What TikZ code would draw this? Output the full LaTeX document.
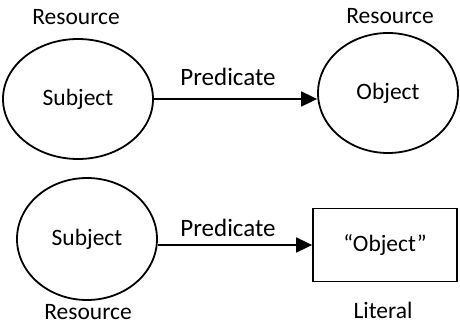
\documentclass[tikz,border=0pt]{standalone}
\usepackage{fontspec}
\setmainfont{Carlito}
\usetikzlibrary{shapes.geometric,arrows.meta}
\tikzset{
  res/.style={ellipse, draw, line width=1.8pt, inner sep=0pt},
  lit/.style={rectangle, draw, line width=1.8pt, inner sep=0pt},
  pred/.style={-{Triangle[length=16pt,width=15pt]}, line width=1.8pt},
  lbl/.style={font=\fontsize{23.5}{28}\selectfont},
  plbl/.style={font=\fontsize{25}{30}\selectfont}
}
\begin{document}
\begin{tikzpicture}[x=1pt, y=-1pt, every node/.style={lbl}]
  \useasboundingbox (0,0) rectangle (460,326);
  % top triple: resource to resource
  \node[res, minimum width=150pt, minimum height=120pt] (subj1) at (78,99) {Subject};
  \node[res, minimum width=140pt, minimum height=120pt] (obj1) at (388,93) {Object};
  \node (rs1) at (76,17) {Resource};
  \node (ro1) at (390,16) {Resource};
  \draw[pred] (subj1.east) -- (obj1.west |- subj1.east);
  \node[plbl] (p1) at (228,77) {Predicate};
  % bottom triple: resource to literal
  \node[res, minimum width=140pt, minimum height=122pt] (subj2) at (87,239) {Subject};
  \node[lit, minimum width=144pt, minimum height=73pt] (obj2) at (385,245) {“Object”};
  \node (rs2) at (88,312) {Resource};
  \node (lt2) at (383,310) {Literal};
  \draw[pred] (subj2.east |- obj2.west) -- (obj2.west);
  \node[plbl] (p2) at (228,228) {Predicate};
\end{tikzpicture}
\end{document}
